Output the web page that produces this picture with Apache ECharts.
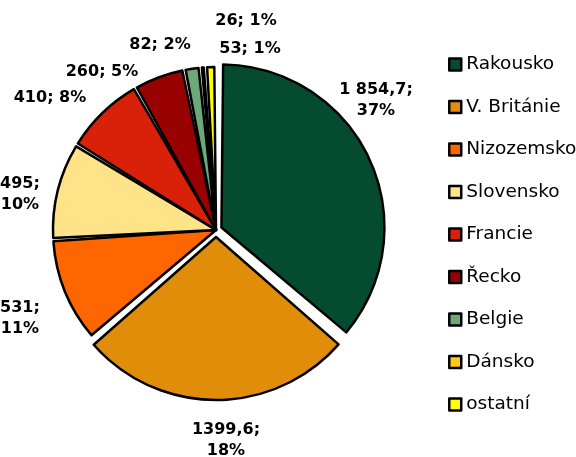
<!DOCTYPE html>
<html>
<head>
<meta charset="utf-8">
<script src="https://cdn.jsdelivr.net/npm/echarts@6/dist/echarts.min.js"></script>
<style>
  html, body { margin: 0; padding: 0; background: #fff; }
  #chart { width: 576px; height: 457px; }
</style>
</head>
<body>
<div id="chart"></div>
<script>
// země a hodnoty
const countries = ['Rakousko', 'V. Británie', 'Nizozemsko', 'Slovensko', 'Francie', 'Řecko', 'Belgie', 'Dánsko', 'ostatní']
const values = [1854.7, 1399.6, 531, 495, 410, 260, 82, 26, 53]
const valueText = ['1 854,7', '1399,6', '531', '495', '410', '260', '82', '26', '53']
const pctText = ['37%', '18%', '11%', '10%', '8%', '5%', '2%', '1%', '1%']
const colors = ['#054b30', '#e08e0a', '#ff6600', '#ffe389', '#d92008', '#990000', '#6fa878', '#ffcc11', '#ffff00']
// umístění popisků (střed textu) – jen rozvržení
const labelPos = [[376, 100], [226, 440], [20, 318], [20, 194], [50, 98], [102, 72], [160, 45], [246, 21], [250, 49]]
// vysunuté výseče (index -> posun v px)
const explode = { 0: 6, 1: 7 }

const chart = echarts.init(document.getElementById('chart'))

const cx = 216
const cy = 230
const total = values.reduce((a, b) => a + b, 0)

function labelFmt (p) {
  const i = p.dataIndex
  return valueText[i] + ';' + (i < 4 ? '\n' : ' ') + pctText[i]
}

// jedna pie série, kde jsou vidět jen vybrané výseče
function makeSeries (visible, center) {
  return {
    type: 'pie',
    center: center,
    radius: [0, 163],
    startAngle: 90,
    clockwise: true,
    padAngle: 1.2,
    silent: true,
    label: {
      show: true,
      position: 'outside',
      alignTo: 'none',
      overflow: 'none',
      fontFamily: 'DejaVu Sans',
      fontWeight: 'bold',
      fontSize: 16,
      color: '#000',
      lineHeight: 21,
      align: 'center',
      formatter: labelFmt
    },
    labelLine: { show: false },
    labelLayout: function (p) {
      const pos = labelPos[p.dataIndex]
      return { x: pos[0], y: pos[1], align: 'center', verticalAlign: 'middle', hideOverlap: false, moveOverlap: false }
    },
    emphasis: { disabled: true },
    data: countries.map((name, i) => {
      const on = visible(i)
      return {
        name: name,
        value: values[i],
        itemStyle: on
          ? { color: colors[i], borderColor: '#000', borderWidth: 2.5 }
          : { color: 'rgba(0,0,0,0)', borderWidth: 0 },
        label: { show: on }
      }
    })
  }
}

const series = [makeSeries(i => explode[i] === undefined, [cx, cy])]
let cum = 0
values.forEach((v, i) => {
  if (explode[i] !== undefined) {
    const ang = (90 - 360 * (cum + v / 2) / total) * Math.PI / 180
    const d = explode[i]
    series.push(makeSeries(j => j === i, [cx + d * Math.cos(ang), cy - d * Math.sin(ang)]))
  }
  cum += v
})

const option = {
  animation: false,
  legend: {
    orient: 'vertical',
    left: 448,
    top: 55,
    padding: 0,
    itemWidth: 12,
    itemHeight: 12,
    itemGap: 23.5,
    icon: 'rect',
    textStyle: { fontFamily: 'DejaVu Sans', fontSize: 18.5, lineHeight: 18, color: '#000', width: 100, overflow: 'none' },
    data: countries.map((name, i) => ({
      name: name,
      itemStyle: { color: colors[i], borderColor: '#000', borderWidth: 2.5 }
    }))
  },
  series: series
}
chart.setOption(option)
</script>
</body>
</html>
